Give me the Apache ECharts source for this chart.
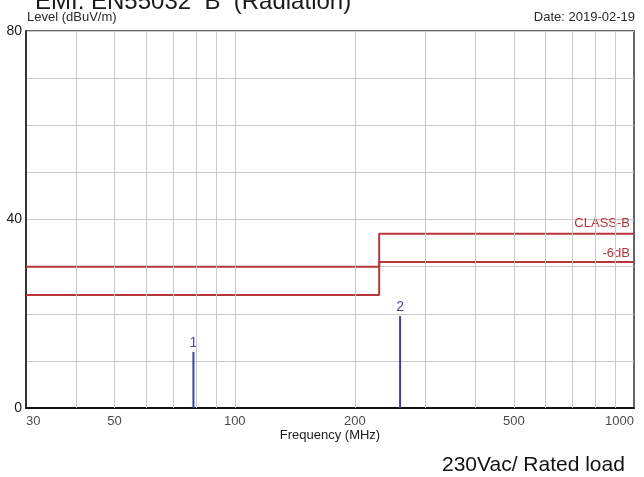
<!DOCTYPE html>
<html>
<head>
<meta charset="utf-8">
<script src="https://cdn.jsdelivr.net/npm/echarts@6/dist/echarts.min.js"></script>
<style>
html,body{margin:0;padding:0;background:#fff;}
#c{width:644px;height:477px;}
</style>
</head>
<body>
<div id="c"></div>
<script>
const titleText = 'EMI: EN55032  B  (Radiation)';
const yAxisTitle = 'Level (dBuV/m)';
const dateText = 'Date: 2019-02-19';
const xAxisTitle = 'Frequency (MHz)';
const footText = '230Vac/ Rated load';

const xTickLabels = [30, 50, 100, 200, 500, 1000];
const xGridValues = [40, 50, 60, 70, 80, 90, 100, 200, 300, 400, 500, 600, 700, 800, 900];
const yTickLabels = [0, 40, 80];

const limitFreq = [30, 230, 230, 1000];
const classBLevel = [30, 30, 37, 37];
const sixDbLevel = [24, 24, 31, 31];
const limitNames = ['CLASS-B', '-6dB'];

const markerIds = ['1', '2'];
const markerFreq = [78.8, 259.5];
const markerLevel = [11.9, 19.5];

const small = "'Liberation Sans', Arial, sans-serif";
const arial = "'Liberation Sans', Arial, sans-serif";
const limitColor = '#b8353b';
const markerColor = '#3f3f98';
const smallSize = 13;

function limitSeries(name, levels, labelDist) {
  return {
    type: 'line', name: name, clip: false, z: 3,
    symbol: 'circle', symbolSize: 0, showSymbol: true,
    itemStyle: { color: 'transparent' },
    lineStyle: { color: limitColor, width: 2 },
    data: limitFreq.map((f, i) => {
      const item = { value: [f, levels[i]] };
      if (i === limitFreq.length - 1) {
        item.label = {
          show: true, position: 'top', align: 'right', distance: labelDist,
          offset: [-4, 0], formatter: name, color: limitColor,
          fontFamily: small, fontSize: smallSize
        };
      }
      return item;
    })
  };
}

const series = [
  {
    type: 'line', data: [], silent: true, z: 1,
    markLine: {
      silent: true, symbol: 'none', animation: false,
      label: { show: false },
      lineStyle: { color: '#c9c9c9', width: 1, type: 'solid' },
      data: xGridValues.map(v => ({ xAxis: v }))
    }
  },
  limitSeries(limitNames[0], classBLevel, 4),
  limitSeries(limitNames[1], sixDbLevel, 2),
  {
    type: 'scatter', clip: false, silent: true, z: 5,
    symbol: 'circle', symbolSize: 1,
    itemStyle: { color: 'transparent' },
    data: xTickLabels.map((v, i) => ({
      value: [v, 0],
      label: {
        show: true, position: 'bottom', distance: 6,
        align: i === 0 ? 'left' : (i === xTickLabels.length - 1 ? 'right' : 'center'),
        formatter: String(v), color: '#1a1a1a', fontFamily: small, fontSize: smallSize
      }
    }))
  }
];

markerIds.forEach((id, i) => {
  series.push({
    type: 'line', clip: false, z: 4,
    symbol: 'circle', symbolSize: 0, showSymbol: true,
    itemStyle: { color: 'transparent' },
    lineStyle: { color: markerColor, width: 2 },
    data: [
      { value: [markerFreq[i], 0] },
      { value: [markerFreq[i], markerLevel[i]],
        label: { show: true, position: 'top', distance: 2, formatter: id,
                 color: '#4a4aa8', fontFamily: small, fontSize: 14 } }
    ]
  });
});

const chart = echarts.init(document.getElementById('c'), null, { renderer: 'canvas' });
chart.setOption({
  animation: false,
  backgroundColor: '#ffffff',
  title: [
    { text: titleText, left: 35, top: -10, padding: 0,
      textStyle: { fontFamily: arial, fontSize: 24, fontWeight: 'normal', color: '#1a1a1a' } },
    { text: yAxisTitle, left: 27, top: 11, padding: 0,
      textStyle: { fontFamily: small, fontSize: smallSize, fontWeight: 'normal', color: '#2a2a2a' } },
    { text: dateText, right: 9, top: 11, padding: 0,
      textStyle: { fontFamily: small, fontSize: smallSize, fontWeight: 'normal', color: '#2a2a2a' } },
    { text: footText, left: 442, top: 455, padding: 0,
      textStyle: { fontFamily: arial, fontSize: 21, fontWeight: 'normal', color: '#111' } }
  ],
  grid: { left: 26, right: 10, top: 31, bottom: 69, show: true, borderColor: '#333', borderWidth: 1.5, containLabel: false },
  xAxis: {
    type: 'log', logBase: 10, min: 30, max: 1000,
    name: xAxisTitle, nameLocation: 'middle', nameGap: 21,
    nameTextStyle: { fontFamily: small, fontSize: smallSize, color: '#1a1a1a' },
    axisLine: { show: true, lineStyle: { color: '#111', width: 2 } },
    axisTick: { show: false },
    axisLabel: { show: false },
    splitLine: { show: false },
    minorTick: { show: false }, minorSplitLine: { show: false }
  },
  yAxis: {
    type: 'value', min: 0, max: 80, interval: 10,
    axisLine: { show: true, lineStyle: { color: '#333', width: 2 } },
    axisTick: { show: false },
    axisLabel: {
      margin: 4, color: '#1a1a1a', fontFamily: small, fontSize: 14,
      formatter: v => (yTickLabels.indexOf(v) >= 0 ? String(v) : '')
    },
    splitLine: { show: true, lineStyle: { color: '#c9c9c9', width: 1 } }
  },
  series: series
});
</script>
</body>
</html>
